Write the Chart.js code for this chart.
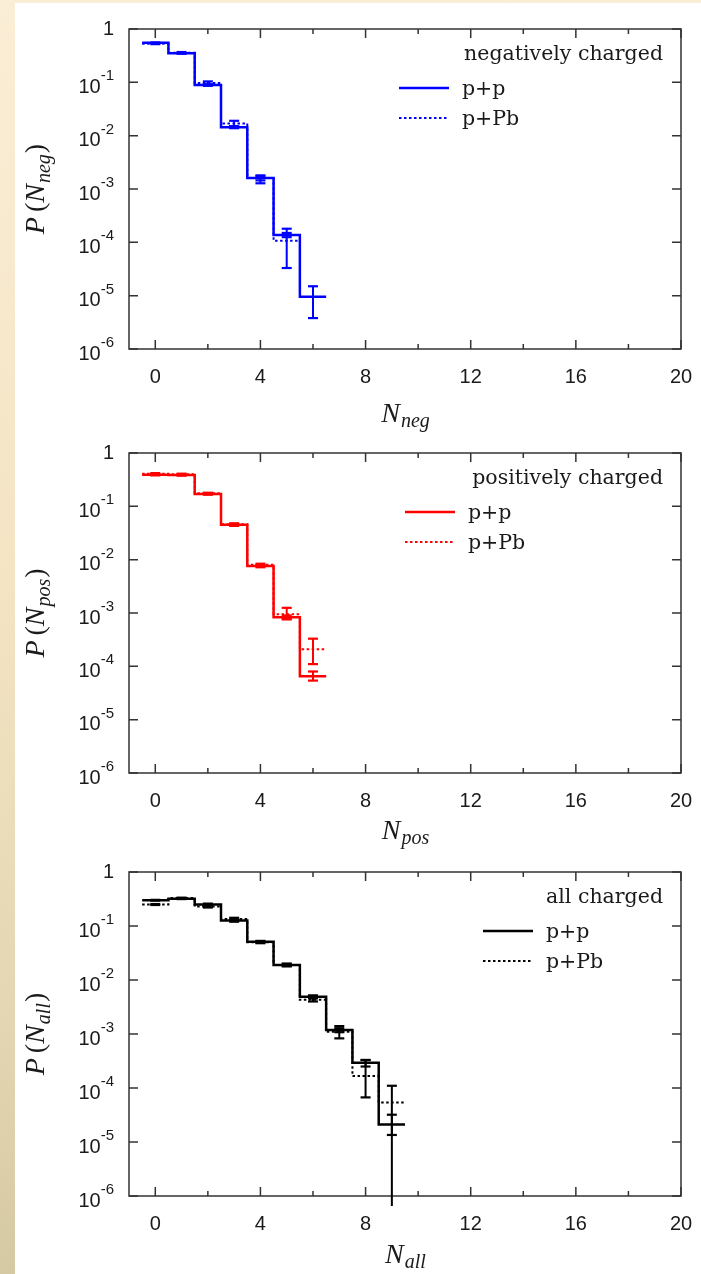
<!DOCTYPE html>
<html>
<head>
<meta charset="utf-8">
<title>Charged multiplicity distributions</title>
<script src="https://cdn.jsdelivr.net/npm/chart.js@4.4.1/dist/chart.umd.min.js"></script>
<style>
  html,body{margin:0;padding:0;}
  body{width:701px;height:1274px;position:relative;overflow:hidden;
    background:linear-gradient(to bottom,#fbeed6 0%,#f4e4c4 45%,#e4d6b2 80%,#d5c9a3 100%);}
  #sheet{position:absolute;left:15px;top:3px;right:0;bottom:0;background:#fff;}
  canvas{position:absolute;left:0;}
</style>
</head>
<body>
<div id="sheet"></div>
<canvas id="negChart" width="701" height="440" style="top:0;width:701px;height:440px"></canvas>
<canvas id="posChart" width="701" height="420" style="top:440px;width:701px;height:420px"></canvas>
<canvas id="allChart" width="701" height="414" style="top:860px;width:701px;height:414px"></canvas>
<script>
// axis ticks
const xTicks = [0,2,4,6,8,10,12,14,16,18,20];
const xLabels = [0,4,8,12,16,20];
const yTicks = [1,1e-1,1e-2,1e-3,1e-4,1e-5,1e-6];
const yExp = [0,-1,-2,-3,-4,-5,-6];

// P(N) per bin N = 0,1,2,...
// negatively charged
const negPP   = [0.55, 0.35, 0.089, 0.0144, 0.0016, 1.37e-4, 9.5e-6];
const negPPLo = [0.54, 0.345, 0.086, 0.0138, 0.00145, 1.25e-4, 3.8e-6];
const negPPHi = [0.56, 0.355, 0.092, 0.0150, 0.00175, 1.5e-4, 1.5e-5];
const negPb   = [0.53, 0.36, 0.097, 0.0170, 0.0016, 1.07e-4];
const negPbLo = [0.52, 0.35, 0.091, 0.0150, 0.00128, 3.3e-5];
const negPbHi = [0.54, 0.37, 0.104, 0.0190, 0.0018, 1.8e-4];

// positively charged
const posPP   = [0.39, 0.385, 0.17, 0.045, 0.0076, 8.3e-4, 6.5e-5];
const posPPLo = [0.38, 0.375, 0.165, 0.043, 0.0072, 7.6e-4, 5.4e-5];
const posPPHi = [0.40, 0.395, 0.175, 0.047, 0.0080, 9.0e-4, 8.0e-5];
const posPb   = [0.41, 0.40, 0.175, 0.046, 0.0080, 9.5e-4, 2.1e-4];
const posPbLo = [0.40, 0.39, 0.170, 0.044, 0.0076, 7.7e-4, 1.1e-4];
const posPbHi = [0.42, 0.41, 0.180, 0.048, 0.0084, 1.25e-3, 3.3e-4];

// all charged
const allPP   = [0.30, 0.32, 0.25, 0.126, 0.051, 0.019, 0.0049, 0.00118, 2.95e-4, 2.1e-5];
const allPPLo = [0.295, 0.315, 0.24, 0.120, 0.049, 0.018, 0.0046, 0.00108, 2.5e-4, 6.5e-7];
const allPPHi = [0.305, 0.325, 0.26, 0.132, 0.053, 0.020, 0.0052, 0.00128, 3.3e-4, 3.2e-5];
const allPb   = [0.25, 0.33, 0.23, 0.135, 0.050, 0.019, 0.0043, 0.0011, 1.66e-4, 5.4e-5];
const allPbLo = [0.245, 0.325, 0.22, 0.128, 0.048, 0.018, 0.0040, 8.3e-4, 6.7e-5, 1.35e-5];
const allPbHi = [0.255, 0.335, 0.24, 0.142, 0.052, 0.020, 0.0046, 1.4e-3, 3.3e-4, 1.1e-4];

const tickFont = '20px "Liberation Sans", Arial, sans-serif';
const supFont = '15px "Liberation Sans", Arial, sans-serif';
const mathFont = 'italic 28px "Liberation Serif", "Times New Roman", serif';
const mathSub = 'italic 20px "Liberation Serif", "Times New Roman", serif';
const mathRoman = '28px "Liberation Serif", "Times New Roman", serif';
const keyFont = '20.5px "DejaVu Serif", serif';
const ink = '#1a1a1a';

// histogram outline: one point per left bin edge + closing right edge
function steps(vals){
  const pts = vals.map((v,i) => ({x: i - 0.5, y: v}));
  pts.push({x: vals.length - 0.5, y: vals[vals.length-1]});
  return pts;
}
// error bars as short vertical segments, broken by null points
function bars(lo, hi){
  const pts = [];
  lo.forEach((l,i) => { pts.push({x:i, y:l}, {x:i, y:hi[i]}, {x:i, y:null}); });
  return pts;
}

// frame, inward ticks, tick labels, axis titles and key in gnuplot style
const gpFrame = {
  id: 'gpFrame',
  beforeDatasetsDraw(chart){
    const {ctx, chartArea: a, scales: {x, y}} = chart;
    ctx.save();
    ctx.strokeStyle = '#333';
    ctx.lineWidth = 1.5;
    ctx.strokeRect(a.left, a.top, a.right - a.left, a.bottom - a.top);
    ctx.beginPath();
    xTicks.forEach(v => {
      const px = x.getPixelForValue(v);
      const len = xLabels.includes(v) ? 9 : 5;
      ctx.moveTo(px, a.bottom); ctx.lineTo(px, a.bottom - len);
      ctx.moveTo(px, a.top); ctx.lineTo(px, a.top + len);
    });
    yTicks.forEach(v => {
      const py = y.getPixelForValue(v);
      ctx.moveTo(a.left, py); ctx.lineTo(a.left + 9, py);
      ctx.moveTo(a.right, py); ctx.lineTo(a.right - 9, py);
    });
    ctx.stroke();
    ctx.restore();
  },
  afterDraw(chart, args, o){
    const {ctx, chartArea: a, scales: {x, y}} = chart;
    ctx.save();
    ctx.fillStyle = ink;
    ctx.textBaseline = 'middle';

    // y tick labels 1, 10^-1 ...
    ctx.textAlign = 'right';
    const lx = a.left - 15;
    yTicks.forEach((v,i) => {
      const py = y.getPixelForValue(v);
      if (yExp[i] === 0) {
        ctx.font = tickFont;
        ctx.fillText('1', lx, py);
      } else {
        const sup = String(yExp[i]);
        ctx.font = supFont;
        ctx.fillText(sup, lx, py - 6);
        const w = ctx.measureText(sup).width;
        ctx.font = tickFont;
        ctx.fillText('10', lx - w, py + 5);
      }
    });

    // x tick labels
    ctx.textAlign = 'center';
    ctx.font = tickFont;
    xLabels.forEach(v => ctx.fillText(String(v), x.getPixelForValue(v), a.bottom + 28));

    // x title N_sub
    ctx.textAlign = 'left';
    ctx.textBaseline = 'alphabetic';
    ctx.font = mathFont;
    const wN = ctx.measureText('N').width;
    ctx.font = mathSub;
    const wS = ctx.measureText(o.sub).width;
    const tx = (a.left + a.right) / 2 - (wN + wS) / 2;
    const ty = a.bottom + o.titleGap;
    ctx.font = mathFont; ctx.fillText('N', tx, ty);
    ctx.font = mathSub; ctx.fillText(o.sub, tx + wN + 1, ty + 5);

    // y title P(N_sub), rotated
    ctx.save();
    ctx.translate(44, (a.top + a.bottom) / 2);
    ctx.rotate(-Math.PI / 2);
    const parts = [['P', mathFont, 0], ['(', mathRoman, 0], ['N', mathFont, 0], [o.sub, mathSub, 6], [')', mathRoman, 0]];
    let total = 0;
    const widths = parts.map((p,i) => { ctx.font = p[1]; const w = ctx.measureText(p[0]).width + (i === 0 ? 5 : 0) + (i === 3 ? 2 : 0); total += w; return w; });
    let px = -total / 2;
    parts.forEach((p,i) => {
      ctx.font = p[1];
      ctx.fillText(p[0], px + (i === 3 ? 1 : 0), p[2]);
      px += widths[i];
    });
    ctx.restore();

    // key
    const ds = chart.data.datasets;
    ctx.font = keyFont;
    ctx.textBaseline = 'middle';
    ctx.textAlign = 'right';
    ctx.fillText(o.title, a.right - 18, a.top + 26);
    ctx.textAlign = 'left';
    [0,1].forEach(k => {
      const d = ds[k];
      const yy = a.top + 59 + 30 * k;
      ctx.strokeStyle = d.borderColor;
      ctx.lineWidth = d.borderWidth;
      ctx.setLineDash(d.borderDash || []);
      ctx.beginPath();
      ctx.moveTo(o.keyX - 63, yy);
      ctx.lineTo(o.keyX - 13, yy);
      ctx.stroke();
      ctx.fillText(d.label, o.keyX, yy + 2);
    });
    ctx.restore();
  }
};

function makeChart(id, color, pp, ppLo, ppHi, pb, pbLo, pbHi, opts){
  const ctx = document.getElementById(id).getContext('2d');
  const errStyle = {
    type: 'line', borderColor: color, backgroundColor: color, borderWidth: 2,
    pointStyle: 'line', pointRadius: 5, pointBorderWidth: 2.2, pointBorderColor: color,
    spanGaps: false, clip: false, fill: false
  };
  return new Chart(ctx, {
    type: 'line',
    data: {datasets: [
      {label: 'p+p', data: steps(pp), stepped: 'before', borderColor: color, borderWidth: 2.5, pointRadius: 0, fill: false},
      {label: 'p+Pb', data: steps(pb), stepped: 'before', borderColor: color, borderWidth: 2, borderDash: [2.5, 2.5], pointRadius: 0, fill: false},
      Object.assign({label: 'p+p err', data: bars(ppLo, ppHi)}, errStyle),
      Object.assign({label: 'p+Pb err', data: bars(pbLo, pbHi)}, errStyle)
    ]},
    options: {
      responsive: false,
      animation: false,
      events: [],
      layout: {padding: {left: 129, right: 20, top: opts.top, bottom: opts.bottom}},
      scales: {
        x: {type: 'linear', min: -1, max: 20, display: false},
        y: {type: 'logarithmic', min: 1e-6, max: 1, display: false}
      },
      plugins: {
        legend: {display: false},
        tooltip: {enabled: false},
        gpFrame: opts
      }
    },
    plugins: [gpFrame]
  });
}

makeChart('negChart', '#0000ff', negPP, negPPLo, negPPHi, negPb, negPbLo, negPbHi,
  {sub: 'neg', title: 'negatively charged', keyX: 462, top: 29, bottom: 91, titleGap: 73});
makeChart('posChart', '#ff0000', posPP, posPPLo, posPPHi, posPb, posPbLo, posPbHi,
  {sub: 'pos', title: 'positively charged', keyX: 468, top: 13, bottom: 87, titleGap: 66});
makeChart('allChart', '#000000', allPP, allPPLo, allPPHi, allPb, allPbLo, allPbHi,
  {sub: 'all', title: 'all charged', keyX: 546, top: 12, bottom: 78, titleGap: 67});
</script>
</body>
</html>
